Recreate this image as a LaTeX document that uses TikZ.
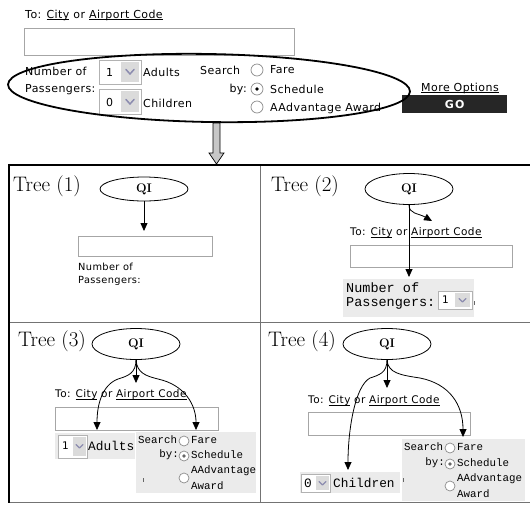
\documentclass[tikz,border=0pt]{standalone}
\usepackage{fontspec}
\usetikzlibrary{shapes.geometric,arrows.meta}
\newfontfamily\webfont[LetterSpace=4]{DejaVu Sans}
\newfontfamily\gofont[LetterSpace=12]{DejaVu Sans}
\newfontfamily\cnmono{Liberation Mono}
\newcommand{\myul}[1]{\setbox0=\hbox{#1}\rlap{\rule[-1.8pt]{\wd0}{0.7pt}}\box0\relax}
\begin{document}
\begin{tikzpicture}[x=1pt,y=-1pt,
  web/.style={inner sep=0, anchor=west, font=\webfont\fontsize{11}{13}\selectfont},
  websm/.style={inner sep=0, anchor=west, font=\webfont\fontsize{10.5}{12}\selectfont},
  webxs/.style={inner sep=0, anchor=west, font=\webfont\fontsize{9.8}{12}\selectfont},
  mono/.style={inner sep=0, anchor=west, font=\cnmono\fontsize{13.5}{14}\selectfont},
  monomid/.style={inner sep=0, anchor=west, font=\cnmono\fontsize{12.8}{14}\selectfont},
  monosm/.style={inner sep=0, anchor=west, font=\cnmono\fontsize{10.8}{12}\selectfont},
  inbox/.style={draw=black!35, fill=white, line width=0.9pt, inner sep=0, anchor=north west},
  selbox/.style={draw=black!30, fill=white, line width=0.8pt, inner sep=0, anchor=north west},
  selbtn/.style={fill=black!14, draw=none, inner sep=0, anchor=north west},
  chev/.style={draw=blue!30!black!45, line width=1.5pt, line cap=round, line join=round},
  graybg/.style={fill=black!8, draw=none, inner sep=0, anchor=north west},
  radio/.style={circle, draw=black!45, fill=white, inner sep=0, minimum size=10, line width=0.7pt},
  qi/.style={draw, ellipse, inner sep=0, minimum width=88, minimum height=31, line width=0.8pt,
             font=\bfseries\fontsize{12.5}{12.5}\selectfont},
  treelbl/.style={inner sep=0, anchor=base west, font=\fontsize{21}{23}\selectfont},
  arr/.style={line width=0.8pt, -{Triangle[length=8pt,width=7pt]}},
  frame/.style={line width=2.4pt, black},
  grid/.style={line width=1pt, black!55}
]
\useasboundingbox (0,0) rectangle (530,504);

% ---------------- top form ----------------
\node[web] (to0) at (25,15) {To: \myul{City} or \myul{Airport Code}};
\node[inbox, minimum width=270, minimum height=27] (box0) at (24,28) {};
\node[web] (np0a) at (25,71) {Number of};
\node[web] (np0b) at (25,90) {Passengers:};
% adults select
\node[selbox, minimum width=42, minimum height=24] (sa0) at (99,60) {};
\node[web] (sa0t) at (106,72) {1};
\node[selbtn, minimum width=18, minimum height=20] (sa0b) at (121,62) {};
\draw[chev] (126,69.5) -- (130,74) -- (134,69.5);
\node[web] (ad0) at (143,72) {Adults};
% children select
\node[selbox, minimum width=42, minimum height=25] (sc0) at (99,89) {};
\node[web] (sc0t) at (106,102) {0};
\node[selbtn, minimum width=18, minimum height=21] (sc0b) at (121,91) {};
\draw[chev] (126,99.5) -- (130,104) -- (134,99.5);
\node[web] (ch0) at (143,103) {Children};
% search by
\node[web] (se0) at (200,70) {Search};
\node[web, anchor=east] (by0) at (247,89) {by:};
\node[radio, minimum size=12] (r0a) at (257,70) {};
\node[radio, minimum size=12] (r0b) at (257,89) {};
\fill (r0b) circle (1.8pt);
\node[radio, minimum size=12] (r0c) at (257,107) {};
\node[web] (fa0) at (270,70) {Fare};
\node[web] (sd0) at (270,89) {Schedule};
\node[web] (aa0) at (270,108) {AAdvantage Award};
\node[web] (mo0) at (421,88) {\myul{More Options}};
\node[fill=black!85, inner sep=0, minimum width=105, minimum height=18, anchor=north west,
      text=white, font=\gofont\bfseries\fontsize{11}{11}\selectfont] (go0) at (402,95) {GO};
% big ellipse
\node[draw, ellipse, line width=1.8pt, minimum width=402, minimum height=68, rotate=-1] (big) at (209,88) {};
% hollow arrow
\draw[fill=black!22, line width=0.7pt] (213,123) -- (213,153) -- (209,153) -- (216.5,164)
      -- (224,153) -- (220,153) -- (220,123) -- cycle;

% ---------------- Tree (1) ----------------
\node[treelbl] (l1) at (13,191) {Tree (1)};
\node[qi, minimum height=24] (q1) at (144,189) {QI};
\node[inbox, minimum width=134, minimum height=20] (b1) at (78,236) {};
\node[webxs] (n1a) at (78,267) {Number of};
\node[webxs] (n1b) at (78,281) {Passengers:};
\coordinate (t1) at (144,231);
\draw[arr] (q1.south) -- (t1);

% ---------------- Tree (2) ----------------
\node[treelbl] (l2) at (271,191) {Tree (2)};
\node[qi] (q2) at (409,189) {QI};
\node[websm] (to2) at (350,233) {To: \myul{City} or \myul{Airport Code}};
\node[inbox, minimum width=162, minimum height=22] (b2) at (350,245) {};
\node[graybg, minimum width=131, minimum height=38] (g2) at (343,279) {};
\node[mono] (n2a) at (346,288) {Number of};
\node[mono] (n2b) at (346,303) {Passengers:};
\node[selbox, minimum width=34, minimum height=18] (s2) at (438,291) {};
\node[websm] (s2t) at (442,300) {1};
\node[selbtn, minimum width=15, minimum height=14] (s2b) at (455,293) {};
\draw[chev, line width=1.3pt] (459,298.5) -- (462.5,302) -- (466,298.5);
\draw[black!60, line width=0.6pt] (474.5,301) -- (474.5,305);
\coordinate (t2a) at (409,277);
\coordinate (t2b) at (432,221);
\draw[arr] (q2.south) -- (t2a);
\draw[arr] (q2.south) .. controls (409,214) and (418,213) .. (t2b);

% ---------------- Tree (3) ----------------
\node[treelbl] (l3) at (18,346) {Tree (3)};
\node[qi] (q3) at (136,344) {QI};
\node[websm] (to3) at (55,395) {To: \myul{City} or \myul{Airport Code}};
\node[inbox, minimum width=163, minimum height=23] (b3) at (55,407) {};
\node[graybg, minimum width=80, minimum height=26] (g3a) at (55,433) {};
\node[selbox, minimum width=29, minimum height=23] (s3) at (58,435) {};
\node[websm] (s3t) at (62,446) {1};
\node[selbtn, minimum width=13, minimum height=19] (s3b) at (73,437) {};
\draw[chev, line width=1.3pt] (76,444.5) -- (79.5,448) -- (83,444.5);
\node[monomid] (ad3) at (88,446) {Adults};
\node[graybg, minimum width=120, minimum height=61] (g3b) at (136,432) {};
\node[monosm] (se3) at (138,440) {Search};
\node[radio] (r3a) at (184,441) {};
\node[monosm] (fa3) at (191,440) {Fare};
\node[monosm, anchor=east] (by3) at (179,455) {by:};
\node[radio] (r3b) at (184,456) {};
\fill[black!60] (r3b) circle (1.8pt);
\node[monosm] (sd3) at (191,455) {Schedule};
\node[radio] (r3c) at (184,478) {};
\node[monosm] (aa3) at (191,471) {AAdvantage};
\node[monosm] (aw3) at (191,486) {Award};
\draw[black!60, line width=0.6pt] (143.5,478) -- (143.5,482);
\coordinate (t3a) at (136,383);
\coordinate (t3b) at (97,430);
\coordinate (t3c) at (196,430);
\draw[arr] (q3.south) -- (t3a);
\draw[arr] (q3.south) .. controls (136,373) and (128,376) .. (118,379)
                      .. controls (102,385) and (97,405) .. (t3b);
\draw[arr] (q3.south) .. controls (137,373) and (146,376) .. (158,379)
                      .. controls (185,385) and (196,405) .. (t3c);

% ---------------- Tree (4) ----------------
\node[treelbl] (l4) at (268,346) {Tree (4)};
\node[qi] (q4) at (387,344) {QI};
\node[websm] (to4) at (308,401) {To: \myul{City} or \myul{Airport Code}};
\node[inbox, minimum width=162, minimum height=23] (b4) at (308,412) {};
\node[graybg, minimum width=100, minimum height=21] (g4a) at (300,472) {};
\node[selbox, minimum width=29, minimum height=18] (s4) at (301,474) {};
\node[monomid] (s4t) at (304,483) {0};
\node[selbtn, minimum width=13, minimum height=14] (s4b) at (316,476) {};
\draw[chev, line width=1.3pt] (319,481.5) -- (322.5,485) -- (326,481.5);
\node[monomid] (ch4) at (333,483) {Children};
\node[graybg, minimum width=123, minimum height=62] (g4b) at (402,439) {};
\node[monosm] (se4) at (404,447) {Search};
\node[radio] (r4a) at (450,448) {};
\node[monosm] (fa4) at (457,447) {Fare};
\node[monosm, anchor=east] (by4) at (445,463) {by:};
\node[radio] (r4b) at (450,464) {};
\fill[black!60] (r4b) circle (1.8pt);
\node[monosm] (sd4) at (457,463) {Schedule};
\node[radio] (r4c) at (450,486) {};
\node[monosm] (aa4) at (457,479) {AAdvantage};
\node[monosm] (aw4) at (457,494) {Award};
\draw[black!60, line width=0.6pt] (403.5,478) -- (403.5,482);
\coordinate (t4a) at (387,388);
\coordinate (t4b) at (348,470);
\coordinate (t4c) at (463,437);
\draw[arr] (q4.south) -- (t4a);
\draw[arr] (q4.south) .. controls (387,373) and (379,375) .. (370,378)
                      .. controls (355,386) and (348,430) .. (t4b);
\draw[arr] (q4.south) .. controls (388,373) and (400,375) .. (420,378)
                      .. controls (450,384) and (463,405) .. (t4c);

% ---------------- frame ----------------
\draw[grid] (9,322) -- (530,322);
\draw[grid] (260,165) -- (260,502);
\draw[grid] (9,502) -- (530,502);
\draw[frame] (9,165) -- (530,165);
\draw[frame] (9,163.8) -- (9,503);
\end{tikzpicture}
\end{document}
